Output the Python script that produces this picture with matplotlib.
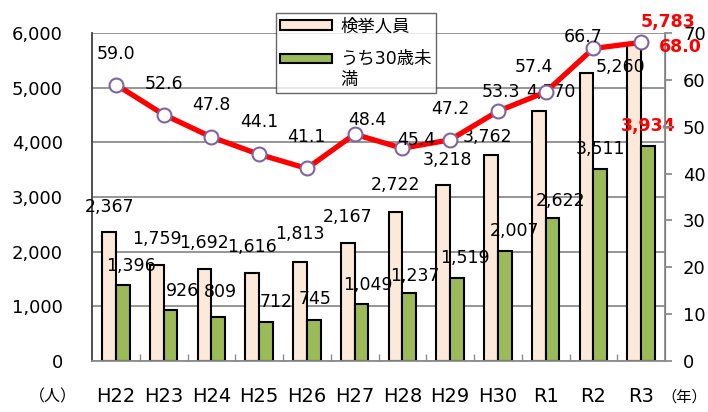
import numpy as np
import matplotlib
matplotlib.use("Agg")
import matplotlib.pyplot as plt

plt.rcParams['font.family'] = ['DejaVu Sans', 'Noto Sans CJK JP']

# data
years = ["H22", "H23", "H24", "H25", "H26", "H27", "H28", "H29", "H30", "R1", "R2", "R3"]
arrested = [2367, 1759, 1692, 1616, 1813, 2167, 2722, 3218, 3762, 4570, 5260, 5783]
under30 = [1396, 926, 809, 712, 745, 1049, 1237, 1519, 2007, 2622, 3511, 3934]
ratio = [59.0, 52.6, 47.8, 44.1, 41.1, 48.4, 45.4, 47.2, 53.3, 57.4, 66.7, 68.0]

# label offsets in pixels (layout only)
off_total = [(1, 25), (0, 26), (0, 26), (0, 26), (0, 28), (0, 26),
             (0, 27), (4, 25), (-3, 18), (12, 19), (34, 6), (34, 23)]
off_u30 = [(8, 19), (12, 19), (2, 25), (10, 20), (1, 21), (6, 19),
           (6, 17), (8, 20), (10, 20), (8, 17), (0, 20), (0, 20)]
off_ratio = [(0, 31), (0, 31), (0, 32), (0, 32), (0, 31), (13, 14),
             (14, 8), (0, 31), (3, 19), (-12, 25), (-10, 11), (39, -5)]

pink = "#FDE9D9"
green = "#9BBB59"
purple = "#8064A2"
grid_c = "#8c8c8c"

fig = plt.figure(figsize=(7.08, 4.12), dpi=100)
ax = fig.add_axes([92/708, 1-361/412, (665-92)/708, (361-33)/412])
ax2 = ax.twinx()

x = np.arange(len(years))
w = 0.29
ax.bar(x - w/2, arrested, w, color=pink, edgecolor="black", linewidth=1.5,
       label="検挙人員", zorder=2)
ax.bar(x + w/2, under30, w, color=green, edgecolor="black", linewidth=1.5,
       label="うち30歳未\n満", zorder=2)

ax.set_xlim(-0.5, len(years) - 0.5)
ax.set_ylim(0, 6000)
ax.set_yticks(range(0, 6001, 1000))
ax.set_yticklabels([f"{v:,}" for v in range(0, 6001, 1000)])
ax.yaxis.grid(True, color=grid_c, linewidth=1.3, zorder=0)
ax.set_axisbelow(True)
ax.set_xticks(x)
ax.set_xticklabels(years)
ax.set_xticks(np.arange(0.5, len(years) - 1, 1), minor=True)
ax.tick_params(axis='x', which='major', length=0, pad=19, labelsize=14)
ax.tick_params(axis='x', which='minor', direction='in', length=5, color=grid_c, width=1)
ax.tick_params(axis='y', length=0, pad=21, labelsize=13)

ax.spines["top"].set_visible(False)
ax2.spines["top"].set_visible(False)
ax.spines["left"].set_color("#404040")
ax.spines["left"].set_linewidth(1.3)
ax.spines["bottom"].set_color(grid_c)
ax.spines["bottom"].set_linewidth(1.3)
ax2.spines["left"].set_visible(False)
ax2.spines["bottom"].set_visible(False)
ax2.spines["right"].set_color(grid_c)
ax2.spines["right"].set_linewidth(1.3)

ax2.plot(x, ratio, color="red", linewidth=3.8, marker="o", markersize=10,
         markerfacecolor="white", markeredgecolor=purple, markeredgewidth=1.5, zorder=3)
ax2.set_ylim(0, 70)
ax2.set_yticks(range(0, 71, 10))
ax2.tick_params(axis='y', direction='out', length=5, width=1.3, color=grid_c,
                pad=8, labelsize=13)

last = len(years) - 1
for i in range(len(years)):
    red = dict(color="red", fontweight="bold") if i == last else dict(color="black")
    ax.annotate(f"{arrested[i]:,}", (x[i] - w/2, arrested[i]), xytext=off_total[i],
                textcoords="offset pixels", ha="center", va="center", fontsize=12.5, **red)
    ax.annotate(f"{under30[i]:,}", (x[i] + w/2, under30[i]), xytext=off_u30[i],
                textcoords="offset pixels", ha="center", va="center", fontsize=12.5, **red)
    ax2.annotate(f"{ratio[i]:.1f}", (x[i], ratio[i]), xytext=off_ratio[i],
                 textcoords="offset pixels", ha="center", va="center", fontsize=12.5,
                 zorder=4, **red)

fig.text(53/708, 1-397/412, "（人）", ha="center", va="center", fontsize=11.5)
fig.text(684/708, 1-397/412, "（年）", ha="center", va="center", fontsize=11)

leg = fig.legend(loc="upper left", bbox_to_anchor=(276/708, 1-13/412), fontsize=12.5,
                 frameon=True, fancybox=False, edgecolor="#404040",
                 handlelength=3.0, handleheight=0.45, labelspacing=0.85,
                 borderpad=0.25, handletextpad=0.45, borderaxespad=0)
leg.get_frame().set_linewidth(1.0)
# keep the green handle level with the first line of its label
hnd = leg.legend_handles[1]
hnd.set_y(hnd.get_y() + 8.5)

fig.savefig("out.png", dpi=100)
